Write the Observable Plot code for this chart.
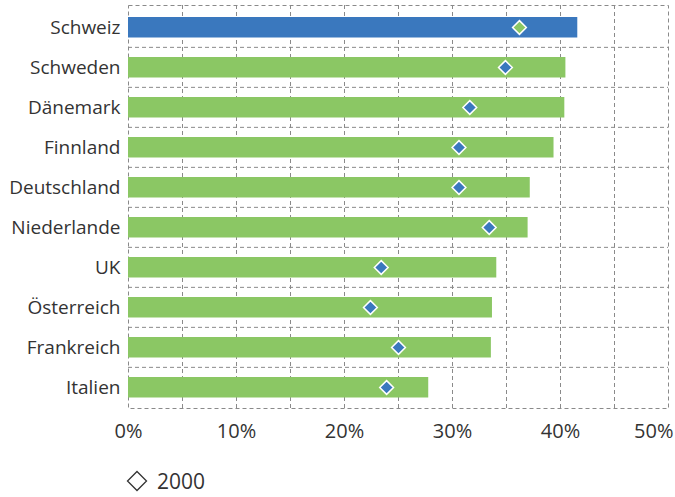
<!DOCTYPE html>
<html>
<head>
<meta charset="utf-8">
<script src="https://cdn.jsdelivr.net/npm/d3@7"></script>
<script src="https://cdn.jsdelivr.net/npm/@observablehq/plot@0.6"></script>
<style>
  html, body { margin: 0; padding: 0; background: #fff; }
  body { width: 675px; font-family: "Open Sans", "Noto Sans", sans-serif; color: #333; }
  #legend { height: 62px; display: flex; align-items: center; padding-left: 126px; font-size: 21px; }
  #legend svg { margin-right: 9px; }
</style>
</head>
<body>
<div id="chart"></div>
<div id="legend">
  <svg width="22" height="22" viewBox="0 0 22 22"><polygon points="11,1.5 20.5,11 11,20.5 1.5,11" fill="none" stroke="#333" stroke-width="1.3"/></svg>
  <span>2000</span>
</div>
<script>
// Länder, aktueller Wert (Balken) und Wert 2000 (Raute), in Prozent
const countries = ["Schweiz", "Schweden", "Dänemark", "Finnland", "Deutschland", "Niederlande", "UK", "Österreich", "Frankreich", "Italien"];
const current   = [41.6, 40.5, 40.4, 39.4, 37.2, 37.0, 34.1, 33.7, 33.6, 27.8];
const year2000  = [36.2, 34.9, 31.6, 30.6, 30.6, 33.4, 23.4, 22.4, 25.0, 23.9];
const xTicks    = [0, 10, 20, 30, 40, 50];
const gridSteps = [5, 10, 15, 20, 25, 30, 35, 40, 45];

const highlight = "Schweiz";
const blue = "#3a78be";
const green = "#8bc764";
const gridColor = "#8a8a8a";

const data = countries.map((c, i) => ({country: c, value: current[i], v2000: year2000[i]}));

const W = 675, H = 450, mT = 5, mB = 42;
const band = (H - mT - mB) / countries.length;
const pct = d => d + "%";

const chart = Plot.plot({
  width: W,
  height: H,
  marginLeft: 128,
  marginRight: 7,
  marginTop: mT,
  marginBottom: mB,
  style: {fontFamily: "Open Sans, Noto Sans, sans-serif", color: "#333", background: "#fff"},
  x: {domain: [0, 50], label: null},
  y: {domain: countries, padding: 0, label: null},
  marks: [
    // dashed grid: row separators, outer frame and vertical lines every 5 %
    Plot.ruleY(countries.slice(1), {y: d => d, dy: -band / 2, stroke: gridColor, strokeDasharray: "4,3"}),
    Plot.frame({stroke: gridColor, strokeDasharray: "4,3"}),
    Plot.ruleX(gridSteps, {stroke: gridColor, strokeDasharray: "4,3"}),
    Plot.barX(data, {y: "country", x: "value", fill: d => d.country === highlight ? blue : green, insetTop: 10, insetBottom: 9.5}),
    Plot.dot(data, {y: "country", x: "v2000", symbol: "diamond2", r: 6.2, fill: d => d.country === highlight ? green : blue, stroke: "#fff", strokeWidth: 1.5}),
    Plot.axisX(xTicks.slice(0, -1), {tickFormat: pct, tickSize: 0, tickPadding: 15, fontSize: 20, label: null}),
    Plot.axisX(xTicks.slice(-1), {tickFormat: pct, tickSize: 0, tickPadding: 15, fontSize: 20, textAnchor: "end", dx: 5, label: null}),
    Plot.axisY({tickSize: 0, tickPadding: 8, fontSize: 19, label: null})
  ]
});
document.getElementById("chart").append(chart);
</script>
</body>
</html>
